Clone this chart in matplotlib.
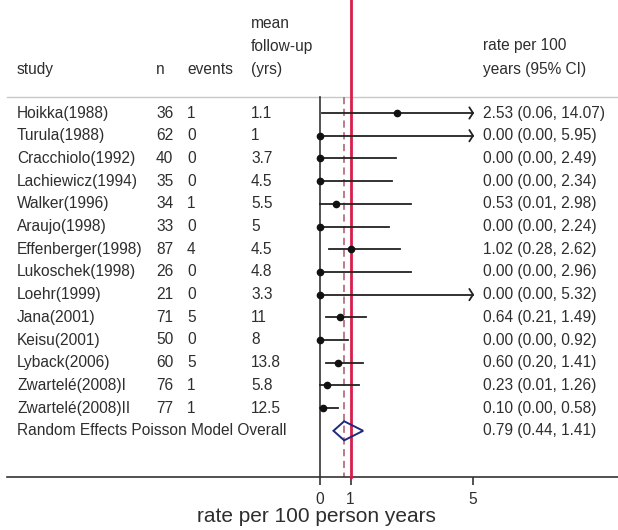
import matplotlib
matplotlib.use("Agg")
import matplotlib.pyplot as plt
from matplotlib.patches import Polygon

plt.rcParams['font.family'] = ['Liberation Sans', 'DejaVu Sans']

studies = ["Hoikka(1988)", "Turula(1988)", "Cracchiolo(1992)", "Lachiewicz(1994)",
           "Walker(1996)", "Araujo(1998)", "Effenberger(1998)", "Lukoschek(1998)",
           "Loehr(1999)", "Jana(2001)", "Keisu(2001)", "Lyback(2006)",
           "Zwartelé(2008)I", "Zwartelé(2008)II"]
n = [36, 62, 40, 35, 34, 33, 87, 26, 21, 71, 50, 60, 76, 77]
events = [1, 0, 0, 0, 1, 0, 4, 0, 0, 5, 0, 5, 1, 1]
followup = ["1.1", "1", "3.7", "4.5", "5.5", "5", "4.5", "4.8", "3.3", "11", "8", "13.8", "5.8", "12.5"]
rate = [2.53, 0.00, 0.00, 0.00, 0.53, 0.00, 1.02, 0.00, 0.00, 0.64, 0.00, 0.60, 0.23, 0.10]
lo = [0.06, 0.00, 0.00, 0.00, 0.01, 0.00, 0.28, 0.00, 0.00, 0.21, 0.00, 0.20, 0.01, 0.00]
hi = [14.07, 5.95, 2.49, 2.34, 2.98, 2.24, 2.62, 2.96, 5.32, 1.49, 0.92, 1.41, 1.26, 0.58]
overall_label = "Random Effects Poisson Model Overall"
overall = (0.79, 0.44, 1.41)
xticks = [0, 1, 5]
clip_max = 5.0
xlabel = "rate per 100 person years"

W, H = 618, 530
fig = plt.figure(figsize=(W / 100, H / 100), dpi=100)
ax = fig.add_axes([0, 0, 1, 1])

scale = 30.6
x0px = 320.0
ax.set_xlim(-x0px / scale, (W - x0px) / scale)
row0, dy = 113.0, 22.7
ax.set_ylim((H - row0) / dy, -row0 / dy)

def px2x(px):
    return (px - x0px) / scale

def py2y(py):
    return (py - row0) / dy

txt = '#2e2e2e'
fs = 11.2
axis_y = py2y(477)
top_y = py2y(97)

# top rule
ax.plot([px2x(7), px2x(618)], [top_y, top_y], color='#c8c8c8', lw=1.0)

# headers
ax.text(px2x(17), py2y(69), "study", fontsize=fs, color=txt, va='center', ha='left')
ax.text(px2x(156), py2y(69), "n", fontsize=fs, color=txt, va='center', ha='left')
ax.text(px2x(187), py2y(69), "events", fontsize=fs, color=txt, va='center', ha='left')
ax.text(px2x(251), py2y(23), "mean", fontsize=fs, color=txt, va='center', ha='left')
ax.text(px2x(251), py2y(46), "follow-up", fontsize=fs, color=txt, va='center', ha='left')
ax.text(px2x(251), py2y(69), "(yrs)", fontsize=fs, color=txt, va='center', ha='left')
ax.text(px2x(483), py2y(45), "rate per 100", fontsize=fs, color=txt, va='center', ha='left')
ax.text(px2x(483), py2y(69), "years (95% CI)", fontsize=fs, color=txt, va='center', ha='left')

# reference lines
ax.plot([0, 0], [top_y, axis_y], color='#333333', lw=1.2, zorder=2)
ax.plot([overall[0], overall[0]], [top_y, axis_y], color='#b8707f', lw=1.3,
        ls=(0, (4, 2.5)), zorder=2)
ax.plot([1, 1], [ax.get_ylim()[1], axis_y], color='#d81e4c', lw=2.0, zorder=3)

for i in range(len(studies)):
    y = i
    ax.text(px2x(17), y, studies[i], fontsize=fs, color=txt, va='center', ha='left')
    ax.text(px2x(156), y, str(n[i]), fontsize=fs, color=txt, va='center', ha='left')
    ax.text(px2x(187), y, str(events[i]), fontsize=fs, color=txt, va='center', ha='left')
    ax.text(px2x(251), y, followup[i], fontsize=fs, color=txt, va='center', ha='left')
    ax.text(px2x(483), y, f"{rate[i]:.2f} ({lo[i]:.2f}, {hi[i]:.2f})", fontsize=fs,
            color=txt, va='center', ha='left')
    if hi[i] > clip_max:
        ax.plot([lo[i], clip_max], [y, y], color='#222222', lw=1.3, zorder=4)
        ax.plot([clip_max - 0.12, clip_max, clip_max - 0.12], [y - 0.25, y, y + 0.25],
                color='#222222', lw=1.3, zorder=4, solid_capstyle='round')
    else:
        ax.plot([lo[i], hi[i]], [y, y], color='#222222', lw=1.3, zorder=4)
    ax.plot([rate[i]], [y], 'o', color='#111111', ms=4.5, zorder=5)

# overall
yo = len(studies)
ax.text(px2x(17), yo, overall_label, fontsize=fs, color=txt, va='center', ha='left')
ax.text(px2x(483), yo, f"{overall[0]:.2f} ({overall[1]:.2f}, {overall[2]:.2f})",
        fontsize=fs, color=txt, va='center', ha='left')
dia = Polygon([[overall[1], yo], [overall[0], yo - 0.42], [overall[2], yo],
               [overall[0], yo + 0.42]], closed=True, fill=False,
              edgecolor='#1f2a7a', lw=1.4, zorder=6)
ax.add_patch(dia)

# x axis
for s in ['top', 'left', 'right']:
    ax.spines[s].set_visible(False)
ax.spines['bottom'].set_position(('data', axis_y))
ax.spines['bottom'].set_bounds(px2x(7), px2x(618))
ax.spines['bottom'].set_color('#333333')
ax.spines['bottom'].set_linewidth(1.2)
ax.set_yticks([])
ax.set_xticks(xticks)
ax.set_xticklabels([str(t) for t in xticks])
ax.tick_params(axis='x', direction='out', length=6, width=1.2, color='#333333',
               labelsize=fs, labelcolor=txt, pad=5)
ax.text(px2x(316), py2y(517), xlabel, fontsize=15, color=txt, ha='center', va='center')

fig.savefig("out.png", dpi=100)
